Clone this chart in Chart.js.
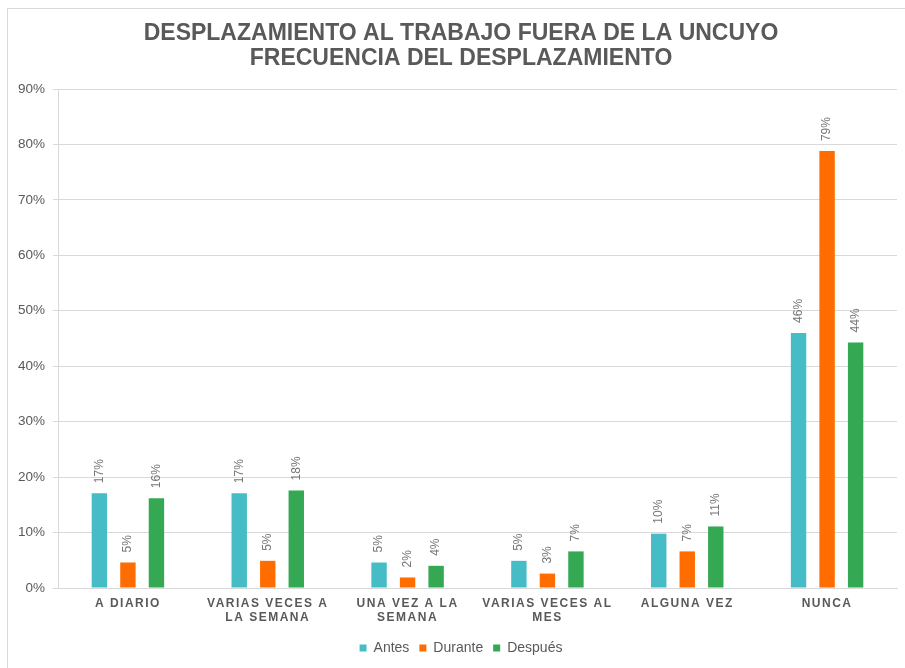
<!DOCTYPE html>
<html>
<head>
<meta charset="utf-8">
<script src="https://cdn.jsdelivr.net/npm/chart.js@4/dist/chart.umd.min.js"></script>
<style>
  html, body { margin: 0; padding: 0; background: #ffffff; overflow: hidden; }
  #frame { position: absolute; left: 7px; top: 8px; width: 940px; height: 700px; border: 1px solid #d9d9d9; }
  #c { position: absolute; left: 0; top: 0; }
</style>
</head>
<body>
<div id="frame"></div>
<canvas id="c" width="905" height="668"></canvas>
<script>
const categories = [
  ['A DIARIO'],
  ['VARIAS VECES A', 'LA SEMANA'],
  ['UNA VEZ A LA', 'SEMANA'],
  ['VARIAS VECES AL', 'MES'],
  ['ALGUNA VEZ'],
  ['NUNCA']
];
const antes   = [17.1, 17.1, 4.6, 4.9, 9.8, 46.0];
const durante = [4.6, 4.9, 1.9, 2.6, 6.6, 78.8];
const despues = [16.2, 17.6, 4.0, 6.6, 11.1, 44.3];
const seriesNames = ['Antes', 'Durante', 'Después'];
const titleLines = ['DESPLAZAMIENTO AL TRABAJO FUERA DE LA UNCUYO', 'FRECUENCIA DEL DESPLAZAMIENTO'];

const FONT = "'Liberation Sans', Arial, sans-serif";
const GRAY = '#595959';

const dataLabels = {
  id: 'dataLabels',
  afterDatasetsDraw(chart) {
    const ctx = chart.ctx;
    chart.data.datasets.forEach((ds, di) => {
      const meta = chart.getDatasetMeta(di);
      meta.data.forEach((el, i) => {
        const txt = Math.round(ds.data[i]) + '%';
        ctx.save();
        ctx.translate(el.x, el.y - 10);
        ctx.rotate(-Math.PI / 2);
        ctx.font = "12px " + FONT;
        ctx.fillStyle = '#767676';
        ctx.textAlign = 'left';
        ctx.textBaseline = 'middle';
        ctx.fillText(txt, 0, 0);
        ctx.restore();
      });
    });
  }
};

const spacedX = {
  id: 'spacedX',
  beforeDraw(chart) {
    const xs = chart.scales.x;
    if (xs && !xs._spaced) {
      const orig = xs.drawLabels;
      xs.drawLabels = function (area) {
        const c = this.ctx;
        c.save();
        c.letterSpacing = '1.5px';
        orig.call(this, area);
        c.restore();
      };
      xs._spaced = true;
    }
  }
};

new Chart(document.getElementById('c'), {
  type: 'bar',
  data: {
    labels: categories,
    datasets: [
      { label: seriesNames[0], data: antes, backgroundColor: '#46bdc6' },
      { label: seriesNames[1], data: durante, backgroundColor: '#ff6d01' },
      { label: seriesNames[2], data: despues, backgroundColor: '#34a853' }
    ]
  },
  options: {
    responsive: false,
    animation: false,
    layout: { padding: { left: 17, right: 0, top: 0, bottom: 3 } },
    datasets: { bar: { categoryPercentage: 0.612, barPercentage: 0.54 } },
    scales: {
      x: {
        grid: { display: false, drawTicks: false },
        border: { display: true, color: '#d9d9d9' },
        ticks: {
          color: GRAY,
          padding: 8,
          font: { family: FONT, size: 12, weight: 'bold', lineHeight: 1.2 },
          maxRotation: 0, autoSkip: false
        },
        afterFit(s) { s.height = 43; }
      },
      y: {
        min: 0, max: 90,
        ticks: {
          stepSize: 10,
          color: GRAY,
          padding: 8,
          font: { family: FONT, size: 13.5 },
          callback: v => v + '%'
        },
        grid: { color: '#d9d9d9', tickLength: 5 },
        border: { display: true, color: '#d9d9d9' },
        afterFit(s) { s.width = 41; }
      },
      y2: {
        position: 'right',
        display: true,
        grid: { display: false, drawTicks: false },
        border: { display: false },
        ticks: { display: false },
        afterFit(s) { s.width = 8; }
      }
    },
    plugins: {
      title: {
        display: true,
        text: titleLines,
        color: GRAY,
        font: { family: FONT, size: 23, weight: 'bold', lineHeight: 1.1 },
        padding: { top: 21, bottom: 17.4 }
      },
      legend: {
        position: 'bottom',
        labels: {
          color: GRAY,
          boxWidth: 7,
          boxHeight: 7,
          padding: 10,
          font: { family: FONT, size: 14 }
        }
      },
      tooltip: { enabled: false }
    }
  },
  plugins: [dataLabels, spacedX]
});
</script>
</body>
</html>
